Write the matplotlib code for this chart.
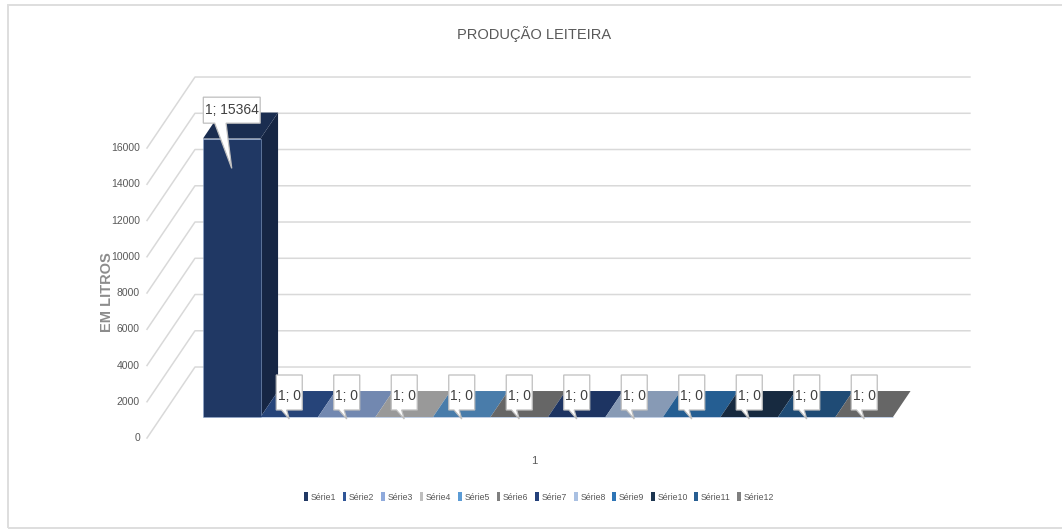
import matplotlib
matplotlib.use("Agg")
import matplotlib.pyplot as plt
from matplotlib.patches import Polygon, Rectangle, Patch
from matplotlib.transforms import IdentityTransform

# Produção leiteira: uma categoria, doze séries
categoria = "1"
series = ["Série1", "Série2", "Série3", "Série4", "Série5", "Série6",
          "Série7", "Série8", "Série9", "Série10", "Série11", "Série12"]
valores = [15364, 0, 0, 0, 0, 0, 0, 0, 0, 0, 0, 0]
cores = ["#203864", "#2F5597", "#8FAADC", "#BFBFBF", "#5B9BD5", "#7F7F7F",
         "#24417A", "#A9C0E2", "#2E75B6", "#1D3550", "#275E92", "#7F7F7F"]
ticks_y = [0, 2000, 4000, 6000, 8000, 10000, 12000, 14000, 16000]
titulo = "PRODUÇÃO LEITEIRA"
titulo_y = "EM LITROS"

W, H, DPI = 1062, 529, 100
FONTE = ["Liberation Sans", "DejaVu Sans"]
CINZA_TXT = "#595959"
CINZA_GRADE = "#d9d9d9"

# perspectiva oblíqua do gráfico 3D (pixels por unidade de profundidade)
PROF_DX, PROF_DY = 48, 71
D_FRENTE, D_FUNDO = 0.296, 0.662   # faces frontal e traseira das colunas
X_PAREDE, X_FIM = -0.727, 12.75    # limites da parede do fundo


def escurece(cor, f):
    r, g, b = matplotlib.colors.to_rgb(cor)
    return (r * f, g * f, b * f)


plt.rcParams["font.family"] = FONTE
fig = plt.figure(figsize=(W / DPI, H / DPI), dpi=DPI)
ax = fig.add_axes([203 / W, 112 / H, 690 / W, 290 / H])
n = len(series)
ax.set_xlim(0, n)
ax.set_ylim(0, 16000)
ax.axis("off")

px_x = ax.bbox.width / n
px_v = ax.bbox.height / 16000


def proj(x, v, d):
    """Ponto (x, valor, profundidade) nas coordenadas de dados do eixo."""
    return (x + (d - D_FRENTE) * PROF_DX / px_x,
            v + (d - D_FRENTE) * PROF_DY / px_v)


# grade: parede do fundo e linhas diagonais da parede lateral
for v in ticks_y:
    a = proj(X_PAREDE, v, 0)
    b = proj(X_PAREDE, v, 1)
    c = proj(X_FIM, v, 1)
    ax.plot([a[0], b[0], c[0]], [a[1], b[1], c[1]], color=CINZA_GRADE,
            lw=1.1, clip_on=False, zorder=1)
    ax.annotate(f"{v}", xy=a, xytext=(-7, 0), textcoords="offset pixels",
                ha="right", va="center", fontsize=7.5, color=CINZA_TXT,
                annotation_clip=False)

# colunas
for i, (v, cor) in enumerate(zip(valores, cores)):
    x0, x1 = i, i + 1
    frente = [proj(x0, 0, D_FRENTE), proj(x1, 0, D_FRENTE),
              proj(x1, v, D_FRENTE), proj(x0, v, D_FRENTE)]
    lado = [proj(x1, 0, D_FRENTE), proj(x1, 0, D_FUNDO),
            proj(x1, v, D_FUNDO), proj(x1, v, D_FRENTE)]
    topo = [proj(x0, v, D_FRENTE), proj(x1, v, D_FRENTE),
            proj(x1, v, D_FUNDO), proj(x0, v, D_FUNDO)]
    ax.add_patch(Polygon(lado, closed=True, fc=escurece(cor, 0.68),
                         ec="none", clip_on=False, zorder=2 + i))
    ax.add_patch(Polygon(topo, closed=True, fc=escurece(cor, 0.8),
                         ec="none", clip_on=False, zorder=2 + i))
    ax.add_patch(Polygon(frente, closed=True, fc=cor, ec="#8fa8d0",
                         lw=0.4, clip_on=False, zorder=2 + i))

# rótulos de dados em forma de balão
renderer = fig.canvas.get_renderer()
for i, v in enumerate(valores):
    cx, ytop = ax.transData.transform((i + 0.5, v))
    h_px = v * px_v
    y_base = ytop + 7 + 0.03 * h_px
    alt = 26 if v > 0 else 35
    ponta = (cx, ytop - 2 - 0.1 * h_px)
    t = fig.text(cx, y_base + alt / 2 - (0 if v > 0 else 3),
                 f"{categoria}; {v}", transform=IdentityTransform(),
                 ha="center", va="center", fontsize=10, color="#404040",
                 zorder=31)
    w = t.get_window_extent(renderer).width + 3
    xl, xr = cx - w / 2, cx + w / 2
    balao = [(xl, y_base), (cx - 0.3 * w, y_base), ponta,
             (cx - 0.1 * w, y_base), (xr, y_base), (xr, y_base + alt),
             (xl, y_base + alt)]
    fig.add_artist(Polygon(balao, closed=True, fc="white", ec="#bfbfbf",
                           lw=0.9, transform=IdentityTransform(), zorder=30))

# rótulo da categoria, abaixo do plano frontal
cat = proj(n / 2, 0, 0)
ax.annotate(categoria, xy=cat, xytext=(0, -23), textcoords="offset pixels",
            ha="center", va="center", fontsize=8, color=CINZA_TXT,
            annotation_clip=False)

fig.text(534 / W, 1 - 34 / H, titulo, ha="center", va="center",
         fontsize=10.5, color=CINZA_TXT)
fig.text(107 / W, 1 - 292 / H, titulo_y, ha="center", va="center",
         rotation=90, fontsize=10.5, fontweight="bold", color="#8c8c8c")

handles = [Patch(facecolor=c, edgecolor="none", label=s)
           for s, c in zip(series, cores)]
fig.legend(handles=handles, loc="center", ncol=n,
           bbox_to_anchor=(539 / W, 1 - 497 / H), frameon=False,
           fontsize=6.3, handlelength=0.45, handleheight=1.2,
           handletextpad=0.3, columnspacing=0.75, labelcolor=CINZA_TXT)

# moldura da área do gráfico
fig.add_artist(Rectangle((8 / W, 1 / H), 1.2, 1 - 6 / H, fill=False,
                         ec="#dedede", lw=1.4, transform=fig.transFigure,
                         clip_on=False))

fig.savefig("out.png", dpi=DPI)
